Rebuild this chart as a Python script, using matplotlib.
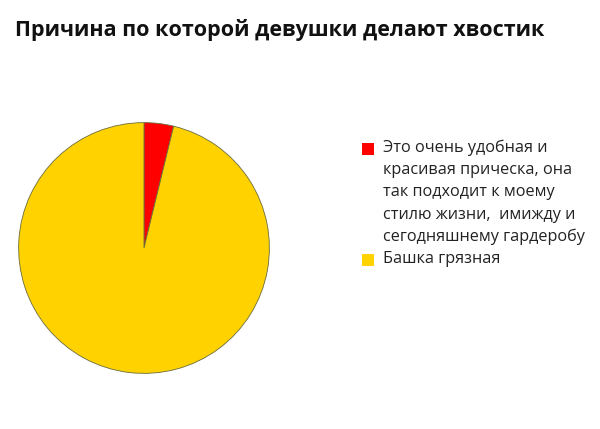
import matplotlib
matplotlib.use("Agg")
import matplotlib.pyplot as plt
from matplotlib.patches import Rectangle

plt.rcParams['font.family'] = ['Open Sans', 'DejaVu Sans']

title = "Причина по которой девушки делают хвостик"
labels = [
    "Это очень удобная и\nкрасивая прическа, она\nтак подходит к моему\nстилю жизни,  имижду и\nсегодняшнему гардеробу",
    "Башка грязная",
]
values = [3.8, 96.2]
colors = ["#FF0000", "#FFD200"]

W, H = 600, 429
fig = plt.figure(figsize=(W / 100, H / 100), dpi=100)
fig.patch.set_facecolor("white")

# pie axes: center ~ (144, 248) px, radius ~126 px
ax = fig.add_axes([18 / W, 1 - 374 / H, 252 / W, 252 / H])
wedges, _ = ax.pie(values, colors=colors, startangle=90, counterclock=False,
                   wedgeprops=dict(edgecolor="#6b6b3a", linewidth=0.6))
ax.set_xlim(-1.005, 1.005)
ax.set_ylim(-1.005, 1.005)
ax.set_aspect("equal")

fig.text(15 / W, 1 - 36 / H, title, fontsize=15.5, fontweight="bold",
         ha="left", va="baseline", color="#111111")

# legend, drawn by hand so the marker sits on the first line of the label
marker_top = [143, 254]
text_base = [152, 263]
for lab, col, mt, tb in zip(labels, colors, marker_top, text_base):
    fig.patches.append(Rectangle((362 / W, 1 - (mt + 12) / H), 12 / W, 12 / H,
                                 facecolor=col, edgecolor="none",
                                 transform=fig.transFigure, figure=fig))
    first, *rest = lab.split("\n")
    for i, line in enumerate(lab.split("\n")):
        fig.text(383 / W, 1 - (tb + i * 22.2) / H, line, fontsize=11.7,
                 ha="left", va="baseline", color="#222222")

fig.savefig("out.png", dpi=100)
